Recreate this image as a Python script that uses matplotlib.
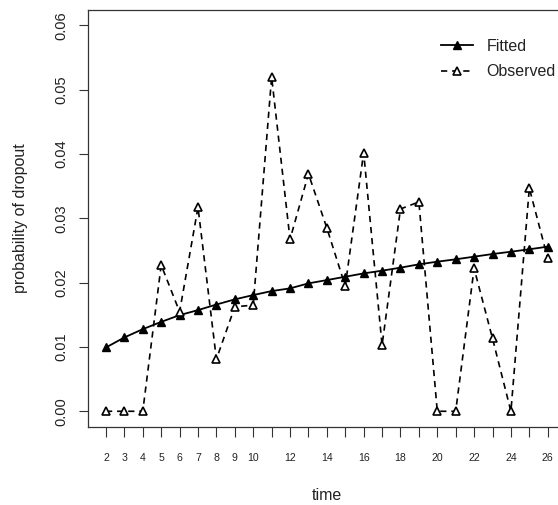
import matplotlib
matplotlib.use("Agg")
import matplotlib.pyplot as plt

time = list(range(2, 27))
fitted = [0.00992, 0.01148, 0.01277, 0.01390, 0.01495, 0.01573, 0.01660, 0.01740,
          0.01807, 0.01869, 0.01911, 0.01989, 0.02040, 0.02092, 0.02144, 0.02186,
          0.02233, 0.02285, 0.02326, 0.02363, 0.02404, 0.02445, 0.02481, 0.02519,
          0.02560]
observed = [0.0, 0.0, 0.0, 0.02274, 0.01547, 0.03173, 0.0081, 0.01625, 0.0165,
            0.05198, 0.02674, 0.03692, 0.0285, 0.01947, 0.04023, 0.01028, 0.03146,
            0.03255, 0.0, 0.0, 0.02222, 0.01132, 0.0, 0.03469, 0.02378]
xtick_labels = [str(t) if (t <= 10 or t % 2 == 0) else "" for t in time]
yticks = [0.00, 0.01, 0.02, 0.03, 0.04, 0.05, 0.06]

plt.rcParams['font.family'] = ['Liberation Sans', 'DejaVu Sans']
plt.rcParams['lines.scale_dashes'] = False
W, H = 558, 505
fig = plt.figure(figsize=(W/100, H/100), dpi=100)
x0, x1, y0, y1 = 88.3, 565.4, 10, 426.7
ax = fig.add_axes([x0/W, 1 - y1/H, (x1-x0)/W, (y1-y0)/H])

txt = '#222222'
ax.plot(time, fitted, color='black', lw=1.3, marker='^', ms=5.5,
        mfc='black', mec='black', label='Fitted')
ax.plot(time, observed, color='black', lw=1.2, linestyle=(0, (4.5, 3.5)),
        marker='^', ms=6, mfc='white', mec='black', mew=1.2, label='Observed')

ax.set_xlim(1.04, 26.96)
ax.set_ylim(-0.0024, 0.0624)
ax.set_xticks(time)
ax.set_xticklabels(xtick_labels)
ax.set_yticks(yticks)
ax.set_yticklabels([f"{v:.2f}" for v in yticks])

for s in ax.spines.values():
    s.set_color('#333333')
    s.set_linewidth(0.9)

ax.tick_params(axis='x', length=7.2, width=0.8, color='#333333', pad=12,
               labelsize=7.6, labelcolor=txt)
ax.tick_params(axis='y', length=6.8, width=0.8, color='#333333', pad=7.5,
               labelsize=10.5, labelcolor=txt, labelrotation=90)
for lab in ax.get_yticklabels():
    lab.set_va('center')

fig.text(326.8/W, 1 - 496/H, 'time', ha='center', va='center', fontsize=11.5, color=txt)
fig.text(21/W, 1 - 218/H, 'probability of dropout', ha='center', va='center',
         rotation=90, fontsize=11.5, color=txt)

leg = ax.legend(loc='upper left', bbox_to_anchor=(441/W, 1 - 39/H),
                bbox_transform=fig.transFigure, frameon=False, fontsize=11.5,
                handlelength=2.0, handletextpad=0.85, labelspacing=0.65,
                borderpad=0, borderaxespad=0, numpoints=1)
for t in leg.get_texts():
    t.set_color(txt)

fig.savefig('out.png', dpi=100)
